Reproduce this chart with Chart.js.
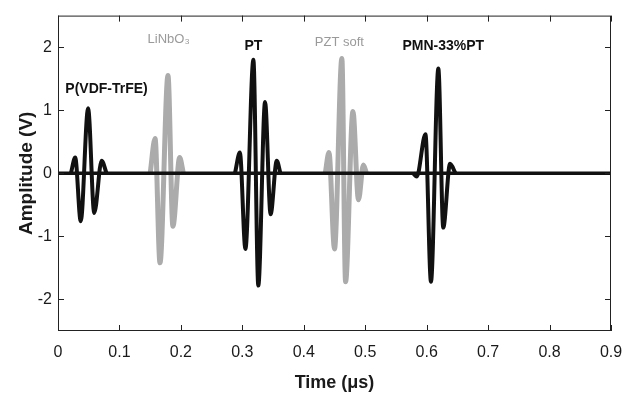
<!DOCTYPE html>
<html>
<head>
<meta charset="utf-8">
<script src="https://cdn.jsdelivr.net/npm/chart.js@4"></script>
<style>
  html, body { margin: 0; padding: 0; background: #fff; }
  #wrap { width: 641px; height: 401px; }
</style>
</head>
<body>
<div id="wrap"><canvas id="pulses"></canvas></div>
<script>
// pulse echoes: time in microseconds, amplitude in volts
const vdfTime = [0.021, 0.028, 0.037, 0.049, 0.059, 0.071, 0.079];
const vdfAmp  = [0, 0.25, -0.76, 1.03, -0.63, 0.2, 0];

const linbTime = [0.150, 0.158, 0.166, 0.179, 0.187, 0.198, 0.204];
const linbAmp  = [0, 0.55, -1.42, 1.55, -0.84, 0.25, 0];

const ptTime = [0.288, 0.296, 0.305, 0.318, 0.326, 0.337, 0.346, 0.356, 0.362];
const ptAmp  = [0, 0.33, -1.2, 1.8, -1.78, 1.13, -0.65, 0.2, 0];

const pztTime = [0.435, 0.441, 0.450, 0.462, 0.468, 0.480, 0.489, 0.497, 0.502];
const pztAmp  = [0, 0.33, -1.2, 1.82, -1.72, 0.98, -0.42, 0.13, 0];

const pmnTime = [0.578, 0.584, 0.598, 0.607, 0.619, 0.627, 0.638, 0.647];
const pmnAmp  = [0, -0.05, 0.62, -1.72, 1.66, -0.86, 0.15, 0];

const baseTime = [0, 0.9];
const baseAmp  = [0, 0];

// material names written next to each echo
const labelText = ['P(VDF-TrFE)', 'LiNbO\u2083', 'PT', 'PZT soft', 'PMN-33%PT'];
const labelTime = [0.079, 0.18, 0.318, 0.458, 0.627];
const labelAmp  = [1.33, 2.13, 2.02, 2.08, 2.01];
const labelGray = [false, true, false, true, false];

const xTicks = [0, 0.1, 0.2, 0.3, 0.4, 0.5, 0.6, 0.7, 0.8, 0.9];
const xTickLabels = ['0', '0.1', '0.2', '0.3', '0.4', '0.5', '0.6', '0.7', '0.8', '0.9'];
const yTicks = [-2, -1, 0, 1, 2];
const yTickLabels = ['-2', '-1', '0', '1', '2'];

const BLACK = '#111111';
const GRAY = '#ababab';

function pts(t, a) {
    return t.map((v, i) => ({x: v, y: a[i]}));
}

function wave(t, a, color, width, order) {
    return {
        data: pts(t, a),
        borderColor: color,
        borderWidth: width,
        pointRadius: 0,
        cubicInterpolationMode: 'monotone',
        fill: false,
        order: order
    };
}

// closed box with inward ticks on all four sides, plus the echo labels
const framePlugin = {
    id: 'frame',
    afterDatasetsDraw(chart) {
        const {ctx, chartArea: a, scales: {x, y}} = chart;
        ctx.save();
        ctx.strokeStyle = '#222';
        ctx.lineWidth = 1;
        ctx.strokeRect(a.left + 0.5, a.top + 0.5, a.width - 1, a.height - 1);
        ctx.beginPath();
        xTicks.forEach(v => {
            const px = Math.round(x.getPixelForValue(v)) + 0.5;
            ctx.moveTo(px, a.bottom); ctx.lineTo(px, a.bottom - 6);
            ctx.moveTo(px, a.top); ctx.lineTo(px, a.top + 6);
        });
        yTicks.forEach(v => {
            const py = Math.round(y.getPixelForValue(v)) + 0.5;
            ctx.moveTo(a.left, py); ctx.lineTo(a.left + 6, py);
            ctx.moveTo(a.right, py); ctx.lineTo(a.right - 6, py);
        });
        ctx.stroke();

        ctx.textAlign = 'center';
        ctx.textBaseline = 'middle';
        labelText.forEach((s, i) => {
            ctx.fillStyle = labelGray[i] ? '#9a9a9a' : BLACK;
            ctx.font = labelGray[i] ? '13px "Liberation Sans", Arial, sans-serif'
                                    : 'bold 14px "Liberation Sans", Arial, sans-serif';
            ctx.fillText(s, x.getPixelForValue(labelTime[i]), y.getPixelForValue(labelAmp[i]));
        });
        ctx.restore();
    }
};

const ctx = document.getElementById('pulses');

var chart = new Chart(ctx, {
    type: 'line',
    data: {
        datasets: [
            wave(baseTime, baseAmp, BLACK, 3.5, 0),
            wave(vdfTime, vdfAmp, BLACK, 4, 1),
            wave(ptTime, ptAmp, BLACK, 4, 1),
            wave(pmnTime, pmnAmp, BLACK, 4, 1),
            wave(linbTime, linbAmp, GRAY, 5, 2),
            wave(pztTime, pztAmp, GRAY, 5, 2)
        ]
    },
    options: {
        responsive: true,
        maintainAspectRatio: false,
        animation: false,
        layout: {
            padding: {top: 11, right: 30, left: 0, bottom: 0}
        },
        scales: {
            x: {
                type: 'linear',
                min: 0,
                max: 0.9,
                afterBuildTicks: s => { s.ticks = xTicks.map(v => ({value: v})); },
                afterFit: s => { s.height = 70; },
                grid: {display: false, drawTicks: false},
                border: {display: false},
                ticks: {
                    padding: 12,
                    color: '#1a1a1a',
                    font: {family: '"Liberation Sans", Arial, sans-serif', size: 16},
                    callback: (v, i) => xTickLabels[i]
                },
                title: {
                    display: true,
                    text: 'Time (\u03bcs)',
                    color: '#1a1a1a',
                    padding: {top: 0, bottom: 7},
                    font: {family: '"Liberation Sans", Arial, sans-serif', size: 18, weight: 'bold'}
                }
            },
            y: {
                type: 'linear',
                min: -2.5,
                max: 2.5,
                afterBuildTicks: s => { s.ticks = yTicks.map(v => ({value: v})); },
                afterFit: s => { s.width = 58; },
                grid: {display: false, drawTicks: false},
                border: {display: false},
                ticks: {
                    padding: 6,
                    color: '#1a1a1a',
                    font: {family: '"Liberation Sans", Arial, sans-serif', size: 16},
                    callback: (v, i) => yTickLabels[i]
                },
                title: {
                    display: true,
                    text: 'Amplitude (V)',
                    color: '#1a1a1a',
                    padding: {top: 15, bottom: 0},
                    font: {family: '"Liberation Sans", Arial, sans-serif', size: 19, weight: 'bold'}
                }
            }
        },
        plugins: {
            legend: {display: false},
            tooltip: {enabled: false}
        }
    },
    plugins: [framePlugin]
});
</script>
</body>
</html>
